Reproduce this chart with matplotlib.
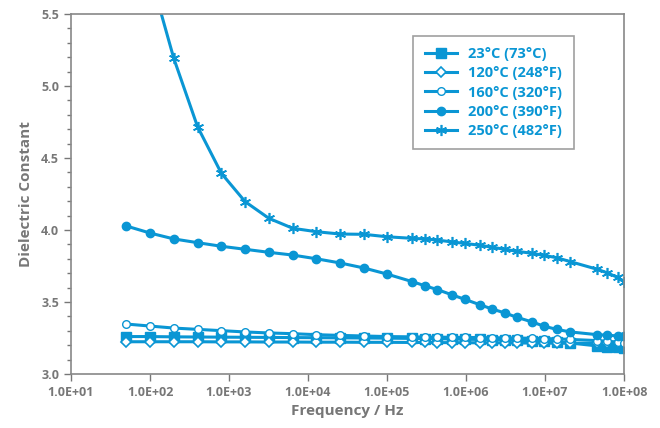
import numpy as np
import matplotlib.pyplot as plt
from matplotlib.ticker import FixedLocator, MultipleLocator, FuncFormatter

# frequencies (Hz)
f_low = [50, 100, 200, 400, 800, 1600, 3200, 6400, 12800, 25600, 51200]
f_high = [1.0e5, 2.1e5, 3.0e5, 4.35e5, 6.7e5, 9.6e5, 1.5e6, 2.15e6, 3.1e6,
          4.4e6, 6.9e6, 9.6e6, 1.4e7, 2.1e7, 4.6e7, 6.1e7, 8.3e7, 1.0e8]

# dielectric constant readings
d23_low = [3.260, 3.260, 3.258, 3.257, 3.256, 3.255, 3.254, 3.253, 3.252, 3.251, 3.250]
d23_high = [3.249, 3.247, 3.246, 3.245, 3.243, 3.241, 3.240, 3.238, 3.236,
            3.234, 3.231, 3.229, 3.225, 3.215, 3.195, 3.190, 3.185, 3.180]
d120_low = [3.224, 3.224, 3.224, 3.224, 3.223, 3.223, 3.222, 3.222, 3.221, 3.221, 3.220]
d120_high = [3.220, 3.219, 3.219, 3.218, 3.218, 3.217, 3.217, 3.216, 3.216,
             3.215, 3.215, 3.214, 3.214, 3.213, 3.213, 3.213, 3.212, 3.212]
d160_low = [3.347, 3.333, 3.319, 3.310, 3.301, 3.292, 3.285, 3.280, 3.273, 3.268, 3.264]
d160_high = [3.260, 3.258, 3.257, 3.256, 3.255, 3.254, 3.253, 3.252, 3.251,
             3.250, 3.248, 3.246, 3.244, 3.240, 3.232, 3.228, 3.222, 3.217]
d200_low = [4.028, 3.979, 3.938, 3.912, 3.887, 3.866, 3.845, 3.826, 3.800, 3.771, 3.736]
d200_high = [3.694, 3.641, 3.613, 3.586, 3.549, 3.519, 3.481, 3.451, 3.424,
             3.394, 3.361, 3.333, 3.310, 3.292, 3.273, 3.270, 3.264, 3.264]
d250_low = [6.60, 5.78, 5.192, 4.717, 4.394, 4.197, 4.081, 4.012, 3.988, 3.972, 3.970]
d250_high = [3.953, 3.942, 3.938, 3.930, 3.917, 3.907, 3.894, 3.880, 3.866,
             3.852, 3.838, 3.824, 3.808, 3.780, 3.727, 3.703, 3.671, 3.641]

labels = ["23°C (73°C)", "120°C (248°F)", "160°C (320°F)", "200°C (390°F)", "250°C (482°F)"]

blue = "#0a96d4"
grey = "#777777"

fig = plt.figure(figsize=(6.6, 4.28), dpi=100)
ax = fig.add_axes([71 / 660, 1 - 374 / 428, (624 - 71) / 660, (374 - 14) / 428])

freq = np.array(f_low + f_high)
series = [d23_low + d23_high, d120_low + d120_high, d160_low + d160_high,
          d200_low + d200_high, d250_low + d250_high]
styles = [
    dict(marker="s", ms=6.5, mfc=blue, mec=blue),
    dict(marker="D", ms=5.5, mfc="white", mec=blue, mew=1.2),
    dict(marker="o", ms=5.5, mfc="white", mec=blue, mew=1.0),
    dict(marker="o", ms=6, mfc=blue, mec=blue),
    dict(marker=(6, 2, 0), ms=8, mfc=blue, mec=blue, mew=1.2),
]

for vals, lab, st in zip(series, labels, styles):
    ax.plot(freq, vals, color=blue, lw=2.2, label=lab, **st)

ax.set_xscale("log")
ax.set_xlim(10, 1e8)
ax.set_ylim(3.0, 5.5)

ax.xaxis.set_major_locator(FixedLocator([10.0 ** k for k in range(1, 9)]))
ax.xaxis.set_minor_locator(FixedLocator([]))
ax.xaxis.set_major_formatter(FuncFormatter(lambda v, p: "1.0E+%02d" % round(np.log10(v))))
ax.yaxis.set_major_locator(MultipleLocator(0.5))
ax.yaxis.set_minor_locator(MultipleLocator(0.1))
ax.yaxis.set_major_formatter(FuncFormatter(lambda v, p: "%.1f" % v))

ax.tick_params(which="both", direction="out", color=grey, labelcolor=grey,
               labelsize=9, width=1)
ax.tick_params(which="major", length=5)
ax.tick_params(which="minor", length=3)
for lab in ax.get_xticklabels() + ax.get_yticklabels():
    lab.set_fontweight("bold")
    lab.set_fontfamily("Open Sans")

for s in ax.spines.values():
    s.set_color("#888888")
    s.set_linewidth(1.2)

ax.set_xlabel("Frequency / Hz", color=grey, fontsize=11, fontweight="bold",
              fontfamily="Open Sans", labelpad=4)
ax.set_ylabel("Dielectric Constant", color=grey, fontsize=11, fontweight="bold",
              fontfamily="Open Sans", labelpad=6)

leg = ax.legend(loc="upper left", bbox_to_anchor=(0.605, 0.96), frameon=True,
                fancybox=False, edgecolor="#888888", handlelength=2.2,
                borderpad=0.8, labelspacing=0.35, handletextpad=0.8,
                prop=dict(family="Open Sans", weight="bold", size=10.5))
leg.get_frame().set_linewidth(1.2)
for t in leg.get_texts():
    t.set_color(blue)

fig.savefig("out.png", dpi=100)
